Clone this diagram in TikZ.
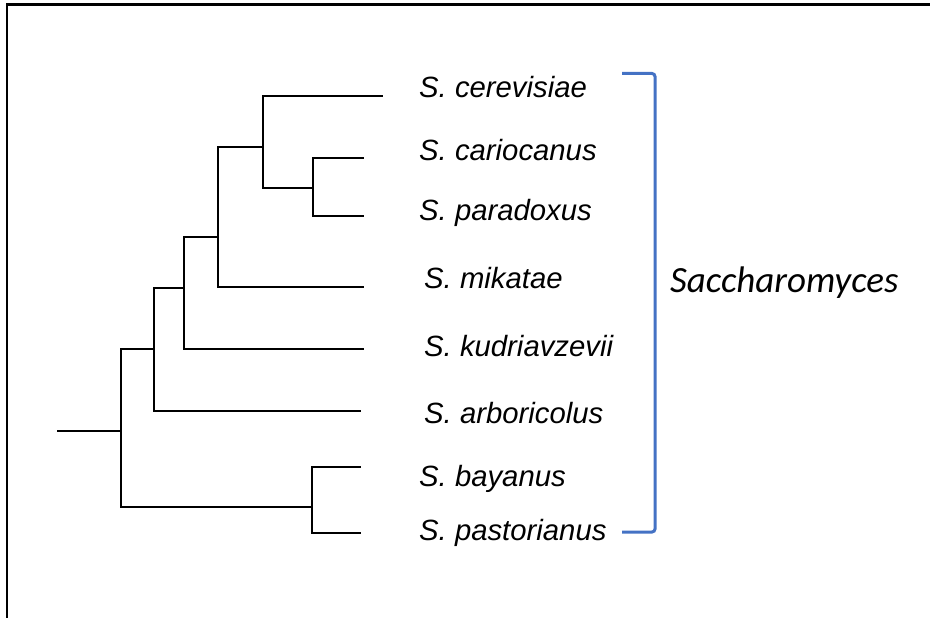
\documentclass[tikz,border=0pt]{standalone}
\usepackage{fontspec}
\setmainfont{Liberation Sans}
\newfontfamily\carlito{Carlito}
\definecolor{bracketblue}{RGB}{68,114,196}
\begin{document}
\begin{tikzpicture}[x=1pt,y=-1pt,
  branch/.style={line width=2pt,line cap=rect},
  sp/.style={anchor=base west,inner sep=0pt,font=\fontsize{29.3}{32}\selectfont\itshape},
  frameline/.style={line width=2.6pt}]
\useasboundingbox (0,0) rectangle (930,618);
% frame (top and left)
\draw[frameline] (7,620) -- (7,4.5) -- (932,4.5);
% internal nodes
\coordinate (root0) at (58,431);
\coordinate (E) at (121,431);
\coordinate (D) at (154,349);
\coordinate (C) at (184,288);
\coordinate (B) at (218,237);
\coordinate (A) at (263,147);
\coordinate (G) at (313,188);
\coordinate (F) at (312,507);
% leaf ends
\coordinate (l1) at (382,96);
\coordinate (l2) at (363,158);
\coordinate (l3) at (363,216);
\coordinate (l4) at (363,287);
\coordinate (l5) at (363,349);
\coordinate (l6) at (360,411);
\coordinate (l7) at (360,467);
\coordinate (l8) at (360,533);
% branches
\draw[branch] (root0) -- (E);
\draw[branch] (E |- D) -- (D) (E |- D) -- (E |- F) -- (F);
\draw[branch] (D |- C) -- (C) (D |- C) -- (D |- l6) -- (l6);
\draw[branch] (C |- B) -- (B) (C |- B) -- (C |- l5) -- (l5);
\draw[branch] (B |- A) -- (A) (B |- A) -- (B |- l4) -- (l4);
\draw[branch] (A |- l1) -- (l1) (A |- l1) -- (A |- G) -- (G);
\draw[branch] (G |- l2) -- (l2) (G |- l2) -- (G |- l3) -- (l3);
\draw[branch] (F |- l7) -- (l7) (F |- l7) -- (F |- l8) -- (l8);
% labels
\node[sp] (t1) at (419,97.5) {S. cerevisiae};
\node[sp] (t2) at (419,160.5) {S. cariocanus};
\node[sp] (t3) at (419,220.5) {S. paradoxus};
\node[sp] (t4) at (424,288) {S. mikatae};
\node[sp] (t5) at (424,356.5) {S. kudriavzevii};
\node[sp] (t6) at (424,423) {S. arboricolus};
\node[sp] (t7) at (419,486.5) {S. bayanus};
\node[sp] (t8) at (419,540) {S. pastorianus};
% bracket
\coordinate (bt) at (622,73.5);
\coordinate (bb) at (622,532);
\draw[bracketblue,line width=3pt,rounded corners=3pt] (bt) -- (655,73.5) -- (655,532) -- (bb);
\node[anchor=base west,inner sep=0pt,font=\carlito\fontsize{37}{42}\selectfont\itshape] (genus) at (670,292.5) {Saccharomyces};
\end{tikzpicture}
\end{document}
